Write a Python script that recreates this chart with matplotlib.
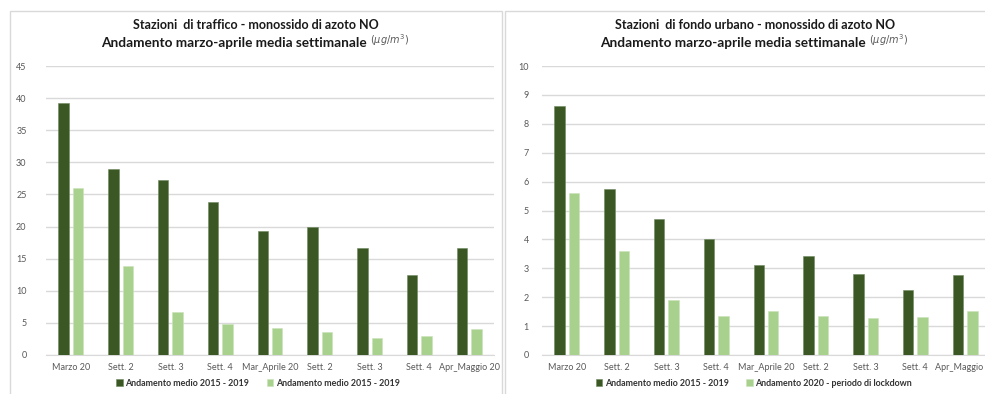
import matplotlib
matplotlib.use('Agg')
import matplotlib.pyplot as plt
from matplotlib.patches import Rectangle
import numpy as np

plt.rcParams["font.family"] = ["Lato", "DejaVu Sans"]

# Weekly averages, NO (µg/m³)
categories = ["Marzo 20", "Sett. 2", "Sett. 3", "Sett. 4", "Mar_Aprile 20",
              "Sett. 2", "Sett. 3", "Sett. 4", "Apr_Maggio 20"]

traffico_2015_2019 = [39.3, 29.0, 27.3, 23.8, 19.3, 20.0, 16.6, 12.4, 16.7]
traffico_2020 = [26.0, 13.8, 6.7, 4.8, 4.2, 3.6, 2.6, 2.9, 4.0]

fondo_2015_2019 = [8.6, 5.75, 4.7, 4.0, 3.13, 3.42, 2.81, 2.24, 2.78]
fondo_2020 = [5.6, 3.6, 1.92, 1.35, 1.52, 1.35, 1.29, 1.31, 1.52]

dark_green = "#3a5724"
light_green = "#a9d18e"
grid_grey = "#d9d9d9"
text_grey = "#595959"

W, H = 985, 394
fig = plt.figure(figsize=(W / 100, H / 100), dpi=100)

# panel frames
fig.patches.append(Rectangle((10 / W, -0.1), 492 / W, 1.1 - 11 / H,
                             transform=fig.transFigure, fill=False,
                             edgecolor=grid_grey, lw=1))
fig.patches.append(Rectangle((505 / W, -0.1), 600 / W, 1.1 - 11 / H,
                             transform=fig.transFigure, fill=False,
                             edgecolor=grid_grey, lw=1))


def draw_panel(left_px, right_px, s1, s2, ymax, line1, legend_labels,
               title_x, legend_x, ypad):
    ax = fig.add_axes([left_px / W, 1 - 355 / H,
                       (right_px - left_px) / W, 289 / H])
    x = np.arange(len(categories))
    ax.bar(x - 0.145, s1, width=0.21, color=dark_green,
           edgecolor="#6f8a5e", linewidth=0.4, label=legend_labels[0], zorder=3)
    ax.bar(x + 0.145, s2, width=0.21, color=light_green,
           edgecolor="#c9e3b8", linewidth=0.4, label=legend_labels[1], zorder=3)
    ax.set_xlim(-0.5, len(categories) - 0.5)
    ax.set_ylim(0, ymax)
    step = 5 if ymax > 10 else 1
    ax.set_yticks(np.arange(0, ymax + step, step))
    ax.set_xticks(x)
    ax.set_xticklabels(categories)
    ax.yaxis.grid(True, color=grid_grey, lw=1, zorder=0)
    for s in ["top", "right", "left"]:
        ax.spines[s].set_visible(False)
    ax.spines["bottom"].set_color(grid_grey)
    ax.tick_params(axis="both", length=0, labelsize=6.5, colors=text_grey)
    ax.tick_params(axis="x", pad=6)
    ax.tick_params(axis="y", pad=ypad)

    fig.text(title_x / W, 1 - 25 / H, line1, ha="center", va="center",
             fontsize=9, fontweight="bold", color="#1a1a1a")
    t2 = fig.text(title_x / W - 0.022, 1 - 43 / H,
                  "Andamento marzo-aprile media settimanale",
                  ha="center", va="center", fontsize=9.8, fontweight="bold",
                  color="#1a1a1a")
    ax.annotate(r"$(\mu g/m^3)$", xy=(1.01, 0.05), xycoords=t2,
                ha="left", va="bottom", fontsize=7, color=text_grey)

    leg = fig.legend(*ax.get_legend_handles_labels(), loc="center",
                     bbox_to_anchor=(legend_x / W, 1 - 383 / H), ncol=2,
                     frameon=False, handlelength=0.7, handleheight=0.7,
                     handletextpad=0.3, columnspacing=2.0,
                     prop={"weight": "bold", "size": 6.4})
    for t in leg.get_texts():
        t.set_color("#333333")
    return ax


draw_panel(46, 494, traffico_2015_2019, traffico_2020, 45,
           "Stazioni  di traffico - monossido di azoto NO",
           ["Andamento medio 2015 - 2019", "Andamento medio 2015 - 2019"],
           256, 258, 14)
draw_panel(542, 990, fondo_2015_2019, fondo_2020, 10,
           "Stazioni  di fondo urbano - monossido di azoto NO",
           ["Andamento medio 2015 - 2019", "Andamento 2020 - periodo di lockdown"],
           755, 754, 9.5)

fig.savefig("out.png", dpi=100)
